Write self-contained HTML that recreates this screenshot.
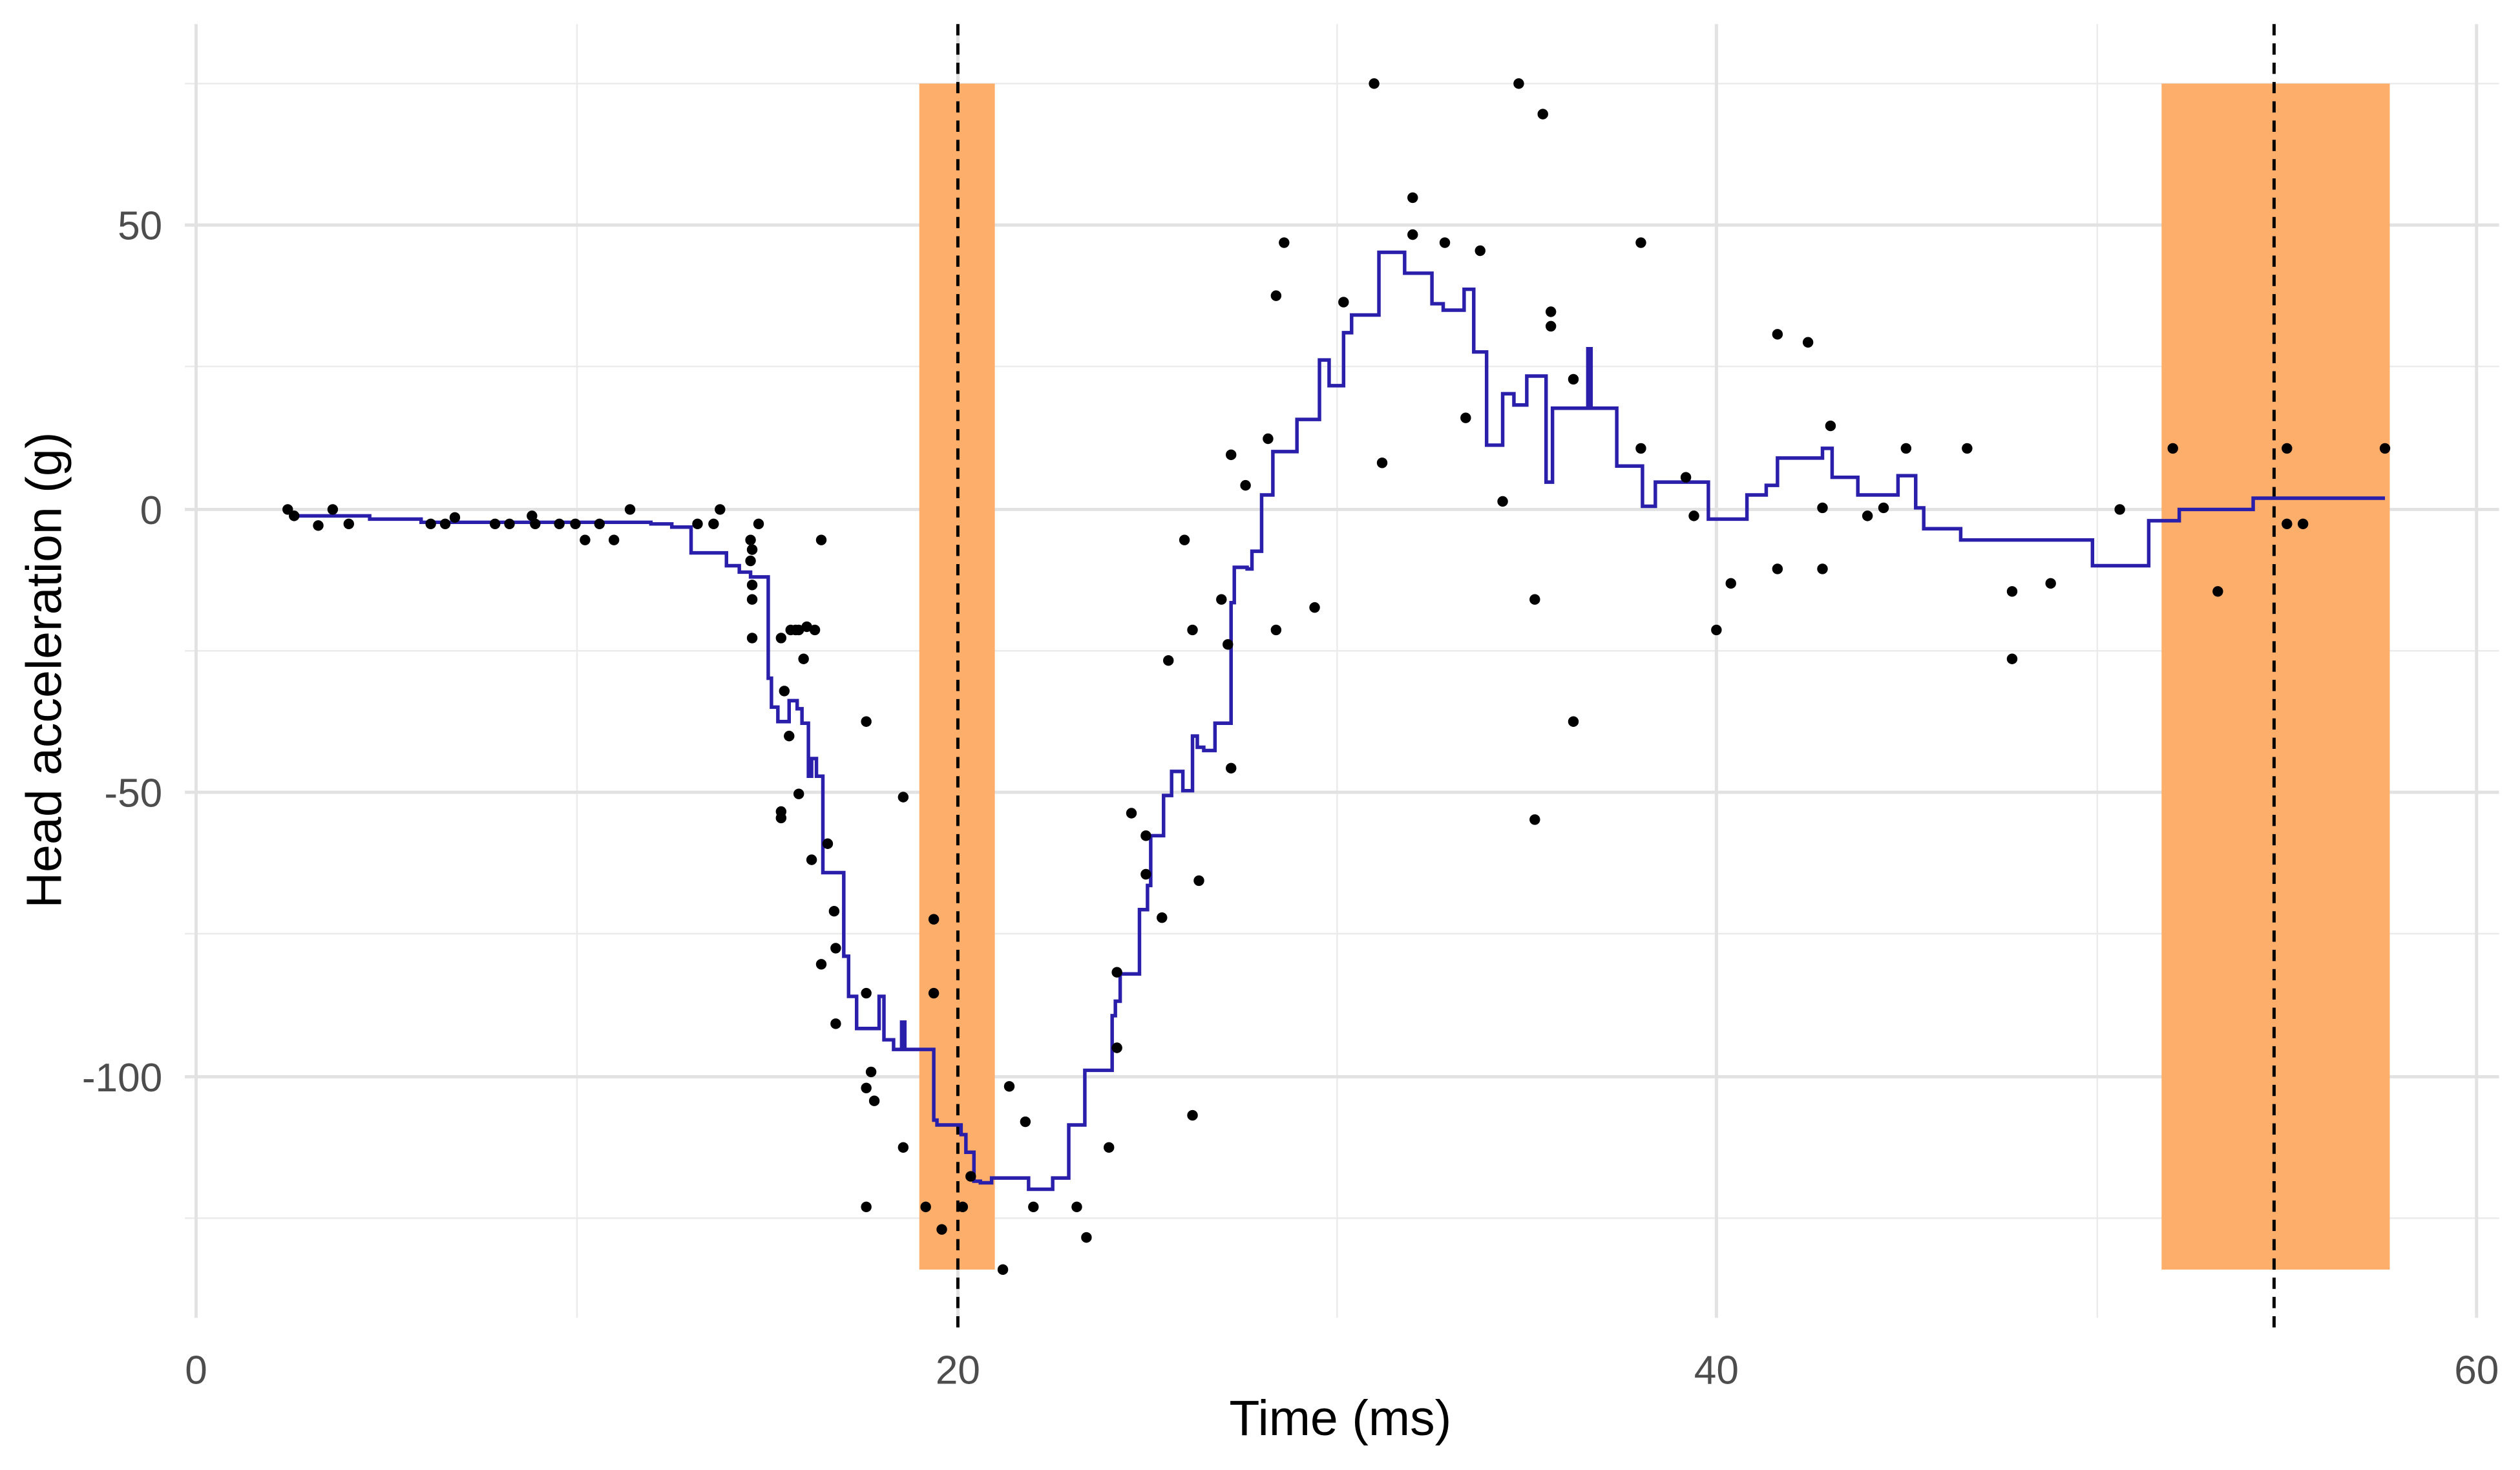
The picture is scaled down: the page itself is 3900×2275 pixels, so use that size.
<!DOCTYPE html>
<html><head><meta charset="utf-8"><style>html,body{margin:0;padding:0;background:#fff}svg{display:block}</style></head>
<body>
<svg xmlns="http://www.w3.org/2000/svg" width="3900" height="2275" viewBox="0 0 1568 914.7">
<rect width="1568" height="915" fill="#fff"/>
<g stroke="#ebebeb" stroke-width="1">
<line x1="359" y1="15" x2="359" y2="820"/><line x1="832" y1="15" x2="832" y2="820"/><line x1="1305" y1="15" x2="1305" y2="820"/>
<line x1="115" y1="52" x2="1555" y2="52"/><line x1="115" y1="228" x2="1555" y2="228"/><line x1="115" y1="405" x2="1555" y2="405"/><line x1="115" y1="581" x2="1555" y2="581"/><line x1="115" y1="758" x2="1555" y2="758"/>
</g>
<g stroke="#e2e2e2" stroke-width="2">
<line x1="122" y1="15" x2="122" y2="820"/><line x1="596" y1="15" x2="596" y2="820"/><line x1="1068" y1="15" x2="1068" y2="820"/><line x1="1541" y1="15" x2="1541" y2="820"/>
<line x1="115" y1="140" x2="1555" y2="140"/><line x1="115" y1="317" x2="1555" y2="317"/><line x1="115" y1="493" x2="1555" y2="493"/><line x1="115" y1="670" x2="1555" y2="670"/>
</g>
<rect x="572" y="52" width="47" height="738" fill="#fdae6b"/>
<rect x="1345" y="52" width="142" height="738" fill="#fdae6b"/>
<line x1="596" y1="15" x2="596" y2="830" stroke="#000" stroke-width="2" stroke-dasharray="7,5"/>
<line x1="1415" y1="15" x2="1415" y2="830" stroke="#000" stroke-width="2" stroke-dasharray="7,5"/>
<path fill="none" stroke="#2a1faa" stroke-width="2.2" d="M180,321 H230 V323 H262 V325 H405 V326 H418 V328 H430 V344 H452 V352 H460 V356 H467 V359 H478 V422 H480 V440 H484 V449 H491 V436 H496 V441 H499 V450 H503 V483 H505 V472 H508 V483 H512 V543 H525 V595 H528 V620 H533 V640 H547 V620 H550 V647 H556 V653 H561 V636 H563 V653 H581 V697 H583 V700 H598 V706 H601 V717 H606 V735 H610 V736 H617 V733 H640 V740 H655 V733 H665 V700 H675 V666 H692 V632 H694 V623 H697 V606 H709 V566 H714 V551 H716 V520 H724 V495 H729 V480 H736 V492 H742 V458 H745 V465 H749 V467 H756 V450 H766 V375 H768 V353 H776 V354 H779 V343 H785 V308 H792 V281 H807 V261 H821 V224 H827 V240 H836 V207 H841 V196 H858 V157 H874 V170 H891 V189 H898 V193 H911 V180 H917 V219 H925 V277 H935 V245 H942 V252 H950 V234 H962 V300 H966 V254 H988 V217 H990 V254 H1006 V290 H1022 V315 H1030 V300 H1063 V323 H1087 V308 H1099 V302 H1106 V285 H1134 V279 H1140 V297 H1156 V308 H1181 V296 H1192 V316 H1197 V329 H1220 V336 H1302 V352 H1337 V324 H1356 V317 H1402 V310 H1484"/>
<g fill="#000">
<circle cx="179" cy="317" r="3.3"/><circle cx="183" cy="321" r="3.3"/><circle cx="198" cy="327" r="3.3"/><circle cx="207" cy="317" r="3.3"/><circle cx="217" cy="326" r="3.3"/><circle cx="268" cy="326" r="3.3"/><circle cx="277" cy="326" r="3.3"/><circle cx="283" cy="322" r="3.3"/><circle cx="308" cy="326" r="3.3"/><circle cx="317" cy="326" r="3.3"/><circle cx="331" cy="321" r="3.3"/><circle cx="333" cy="326" r="3.3"/><circle cx="348" cy="326" r="3.3"/><circle cx="358" cy="326" r="3.3"/><circle cx="364" cy="336" r="3.3"/><circle cx="373" cy="326" r="3.3"/><circle cx="382" cy="336" r="3.3"/><circle cx="392" cy="317" r="3.3"/><circle cx="434" cy="326" r="3.3"/><circle cx="444" cy="326" r="3.3"/><circle cx="448" cy="317" r="3.3"/><circle cx="472" cy="326" r="3.3"/><circle cx="467" cy="336" r="3.3"/><circle cx="468" cy="342" r="3.3"/><circle cx="467" cy="349" r="3.3"/><circle cx="468" cy="364" r="3.3"/><circle cx="468" cy="373" r="3.3"/><circle cx="468" cy="397" r="3.3"/><circle cx="486" cy="397" r="3.3"/><circle cx="488" cy="430" r="3.3"/><circle cx="491" cy="458" r="3.3"/><circle cx="492" cy="392" r="3.3"/><circle cx="495" cy="392" r="3.3"/><circle cx="497" cy="392" r="3.3"/><circle cx="500" cy="410" r="3.3"/><circle cx="502" cy="390" r="3.3"/><circle cx="507" cy="392" r="3.3"/><circle cx="511" cy="336" r="3.3"/><circle cx="486" cy="505" r="3.3"/><circle cx="486" cy="509" r="3.3"/><circle cx="497" cy="494" r="3.3"/><circle cx="505" cy="535" r="3.3"/><circle cx="515" cy="525" r="3.3"/><circle cx="519" cy="567" r="3.3"/><circle cx="520" cy="590" r="3.3"/><circle cx="520" cy="637" r="3.3"/><circle cx="511" cy="600" r="3.3"/><circle cx="539" cy="449" r="3.3"/><circle cx="539" cy="618" r="3.3"/><circle cx="539" cy="677" r="3.3"/><circle cx="542" cy="667" r="3.3"/><circle cx="544" cy="685" r="3.3"/><circle cx="539" cy="751" r="3.3"/><circle cx="562" cy="496" r="3.3"/><circle cx="562" cy="714" r="3.3"/><circle cx="576" cy="751" r="3.3"/><circle cx="581" cy="572" r="3.3"/><circle cx="581" cy="618" r="3.3"/><circle cx="586" cy="765" r="3.3"/><circle cx="599" cy="751" r="3.3"/><circle cx="604" cy="732" r="3.3"/><circle cx="624" cy="790" r="3.3"/><circle cx="628" cy="676" r="3.3"/><circle cx="638" cy="698" r="3.3"/><circle cx="643" cy="751" r="3.3"/><circle cx="670" cy="751" r="3.3"/><circle cx="676" cy="770" r="3.3"/><circle cx="690" cy="714" r="3.3"/><circle cx="695" cy="605" r="3.3"/><circle cx="695" cy="652" r="3.3"/><circle cx="704" cy="506" r="3.3"/><circle cx="713" cy="520" r="3.3"/><circle cx="713" cy="544" r="3.3"/><circle cx="723" cy="571" r="3.3"/><circle cx="727" cy="411" r="3.3"/><circle cx="737" cy="336" r="3.3"/><circle cx="742" cy="392" r="3.3"/><circle cx="742" cy="694" r="3.3"/><circle cx="746" cy="548" r="3.3"/><circle cx="760" cy="373" r="3.3"/><circle cx="764" cy="401" r="3.3"/><circle cx="766" cy="478" r="3.3"/><circle cx="766" cy="283" r="3.3"/><circle cx="775" cy="302" r="3.3"/><circle cx="789" cy="273" r="3.3"/><circle cx="794" cy="392" r="3.3"/><circle cx="794" cy="184" r="3.3"/><circle cx="799" cy="151" r="3.3"/><circle cx="818" cy="378" r="3.3"/><circle cx="836" cy="188" r="3.3"/><circle cx="855" cy="52" r="3.3"/><circle cx="860" cy="288" r="3.3"/><circle cx="879" cy="123" r="3.3"/><circle cx="879" cy="146" r="3.3"/><circle cx="899" cy="151" r="3.3"/><circle cx="921" cy="156" r="3.3"/><circle cx="912" cy="260" r="3.3"/><circle cx="935" cy="312" r="3.3"/><circle cx="945" cy="52" r="3.3"/><circle cx="955" cy="373" r="3.3"/><circle cx="955" cy="510" r="3.3"/><circle cx="960" cy="71" r="3.3"/><circle cx="965" cy="194" r="3.3"/><circle cx="965" cy="203" r="3.3"/><circle cx="979" cy="236" r="3.3"/><circle cx="979" cy="449" r="3.3"/><circle cx="1021" cy="151" r="3.3"/><circle cx="1021" cy="279" r="3.3"/><circle cx="1049" cy="297" r="3.3"/><circle cx="1054" cy="321" r="3.3"/><circle cx="1068" cy="392" r="3.3"/><circle cx="1077" cy="363" r="3.3"/><circle cx="1106" cy="208" r="3.3"/><circle cx="1106" cy="354" r="3.3"/><circle cx="1125" cy="213" r="3.3"/><circle cx="1134" cy="316" r="3.3"/><circle cx="1134" cy="354" r="3.3"/><circle cx="1139" cy="265" r="3.3"/><circle cx="1162" cy="321" r="3.3"/><circle cx="1172" cy="316" r="3.3"/><circle cx="1186" cy="279" r="3.3"/><circle cx="1224" cy="279" r="3.3"/><circle cx="1252" cy="368" r="3.3"/><circle cx="1252" cy="410" r="3.3"/><circle cx="1276" cy="363" r="3.3"/><circle cx="1319" cy="317" r="3.3"/><circle cx="1352" cy="279" r="3.3"/><circle cx="1380" cy="368" r="3.3"/><circle cx="1423" cy="279" r="3.3"/><circle cx="1423" cy="326" r="3.3"/><circle cx="1433" cy="326" r="3.3"/><circle cx="1484" cy="279" r="3.3"/>
</g>
<g font-family="Liberation Sans, sans-serif" font-size="25" fill="#4d4d4d">
<g text-anchor="end"><text x="101" y="149">50</text><text x="101" y="326">0</text><text x="101" y="502">-50</text><text x="101" y="679">-100</text></g>
<g text-anchor="middle"><text x="122" y="861">0</text><text x="596" y="861">20</text><text x="1068" y="861">40</text><text x="1541" y="861">60</text></g>
</g>
<text x="834" y="893" text-anchor="middle" font-family="Liberation Sans, sans-serif" font-size="31" fill="#000">Time (ms)</text>
<text transform="translate(38,417) rotate(-90)" text-anchor="middle" font-family="Liberation Sans, sans-serif" font-size="31" fill="#000">Head acceleration (g)</text>
</svg>
</body></html>
